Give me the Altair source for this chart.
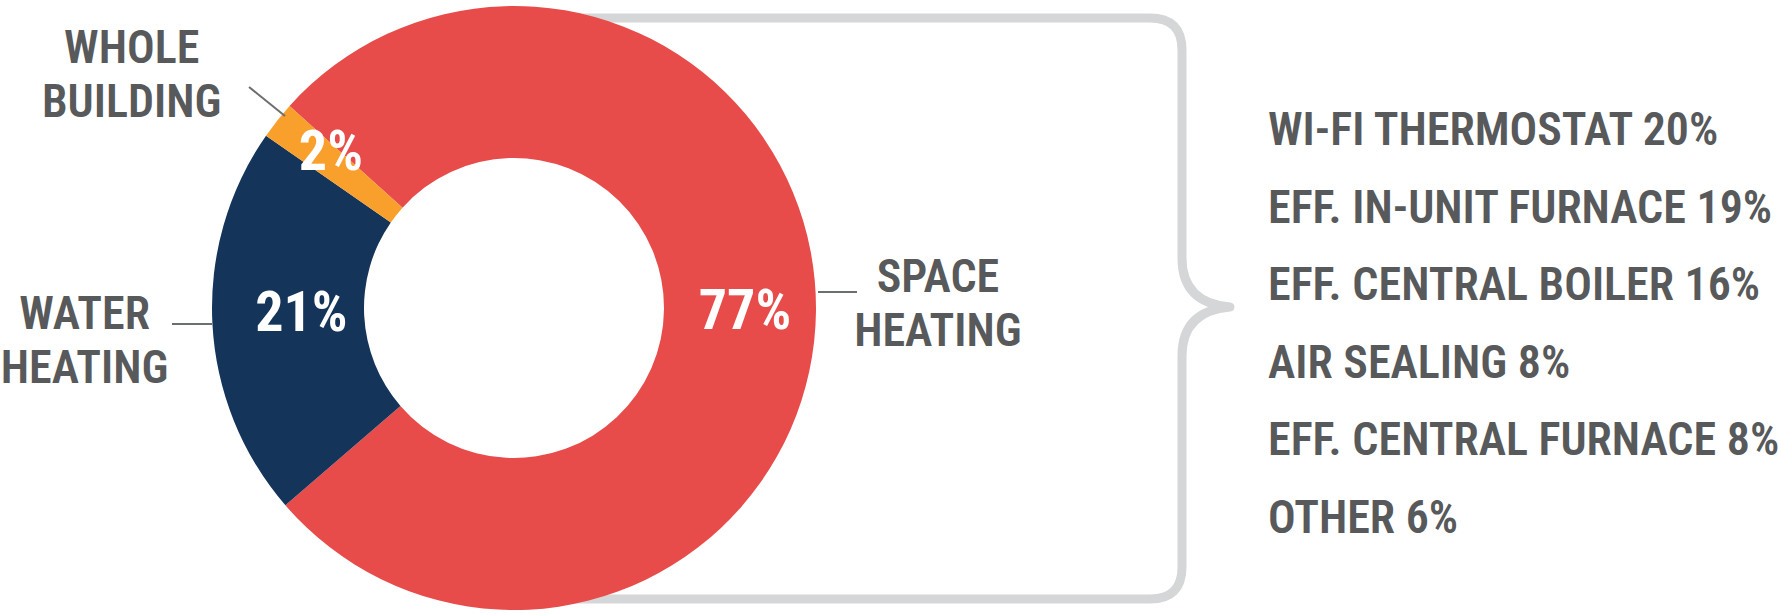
import math
import altair as alt
import pandas as pd

# ---- data ----
categories = ["SPACE HEATING", "WATER HEATING", "WHOLE BUILDING"]
shares = [77, 21, 2]
slice_colors = ["#E84C4A", "#14345A", "#F99F2B"]

measures = [
    "WI-FI THERMOSTAT",
    "EFF. IN-UNIT FURNACE",
    "EFF. CENTRAL BOILER",
    "AIR SEALING",
    "EFF. CENTRAL FURNACE",
    "OTHER",
]
measure_pct = [20, 19, 16, 8, 8, 6]

# ---- layout / style ----
FONT = "Roboto Condensed, Liberation Sans Narrow, DejaVu Sans Condensed, Roboto, sans-serif"
GRAY_TEXT = "#58595B"
LEADER = "#6D6E71"
BRACE = "#D5D6D8"
LABEL_WEIGHT = 600
CX, CY = 514, 308
R_OUT, R_IN = 302, 150
start = math.radians(-48)
total = sum(shares)
tscale = alt.Scale(domain=[0, total], range=[start, start + 2 * math.pi])

df = pd.DataFrame({"cat": categories, "share": shares})
mdf = pd.DataFrame({"measure": measures, "pct": measure_pct})

base = (
    alt.Chart(df)
    .transform_window(cum="sum(share)", frame=[None, 0])
    .transform_calculate(
        start="datum.cum - datum.share",
        mid="datum.cum - datum.share / 2",
        pct="datum.share + '%'",
    )
)

# brace (decoration)
brace_path = (
    "M 560 18 H 1150 Q 1182 18 1182 50 V 258 Q 1182 303 1230 307 "
    "Q 1182 311 1182 356 V 567 Q 1182 599 1150 599 H 560"
)
brace = (
    alt.Chart(pd.DataFrame({"k": [0]}))
    .mark_point(shape=brace_path, size=4, filled=False, color=BRACE,
                strokeWidth=9, opacity=1, strokeJoin="round")
    .encode(x=alt.value(0), y=alt.value(0))
)

arcs = base.mark_arc(outerRadius=R_OUT, innerRadius=R_IN).encode(
    x=alt.value(CX),
    y=alt.value(CY),
    theta=alt.Theta("start:Q", stack=None, scale=tscale),
    theta2=alt.Theta2("end:Q"),
    color=alt.Color("cat:N", scale=alt.Scale(domain=categories, range=slice_colors), legend=None),
)
arcs = arcs.transform_calculate(end="datum.cum")

# leader lines
leaders = [
    ((818, 292), (857, 292)),
    ((172, 324), (212, 324)),
    ((249, 87), (285, 116)),
]
leader_layers = [
    alt.Chart(pd.DataFrame({"k": [0]}))
    .mark_rule(color=LEADER, strokeWidth=2)
    .encode(x=alt.value(a[0]), y=alt.value(a[1]), x2=alt.value(b[0]), y2=alt.value(b[1]))
    for a, b in leaders
]

inner_off = {"SPACE HEATING": (5, 19), "WATER HEATING": (13, 11), "WHOLE BUILDING": (-6, 2)}
outer_off = {"SPACE HEATING": (0, -20), "WATER HEATING": (-6, -1), "WHOLE BUILDING": (-50, 18)}

inner_layers = []
outer_layers = []
for c in categories:
    dx, dy = inner_off[c]
    inner_layers.append(
        base.transform_filter(alt.datum.cat == c)
        .mark_text(radius=226, dx=dx, dy=dy, font=FONT, fontSize=56, fontWeight="bold",
                   color="white", align="center", baseline="alphabetic")
        .encode(x=alt.value(CX), y=alt.value(CY),
                theta=alt.Theta("mid:Q", stack=None, scale=tscale), text="pct:N")
    )
    dx, dy = outer_off[c]
    outer_layers.append(
        base.transform_filter(alt.datum.cat == c)
        .mark_text(radius=424, dx=dx, dy=dy, font=FONT, fontSize=46, fontWeight=LABEL_WEIGHT,
                   color=GRAY_TEXT, align="center", baseline="alphabetic",
                   lineBreak=" ", lineHeight=54)
        .encode(x=alt.value(CX), y=alt.value(CY),
                theta=alt.Theta("mid:Q", stack=None, scale=tscale), text="cat:N")
    )

listing = (
    alt.Chart(mdf)
    .transform_calculate(txt="datum.measure + ' ' + datum.pct + '%'")
    .mark_text(font=FONT, fontSize=46, fontWeight=LABEL_WEIGHT, color=GRAY_TEXT,
               align="left", baseline="alphabetic")
    .encode(
        x=alt.value(1268),
        y=alt.Y("measure:N", sort=None, axis=None,
                scale=alt.Scale(type="point", range=[145, 533], padding=0)),
        text="txt:N",
    )
)

chart = (
    alt.layer(brace, arcs, *leader_layers, *inner_layers, *outer_layers, listing)
    .properties(width=1778, height=614, padding=0, autosize=alt.AutoSizeParams(type="none"),
                background="white")
    .configure_view(stroke="transparent")
)

chart.save("out.html", embed_options={"renderer": "svg", "actions": False})
